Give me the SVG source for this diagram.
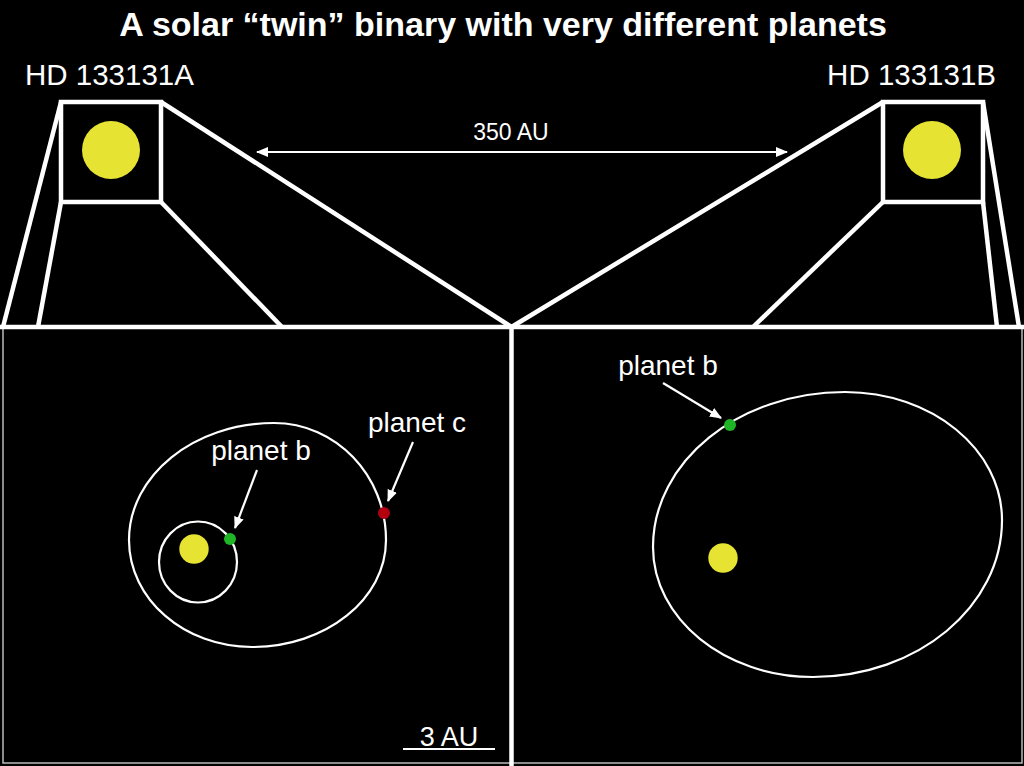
<svg xmlns="http://www.w3.org/2000/svg" width="1024" height="766" viewBox="0 0 1024 766">
<defs>
<marker id="ah" markerUnits="userSpaceOnUse" markerWidth="12" markerHeight="12" viewBox="0 0 12 10" refX="11" refY="5" orient="auto-start-reverse">
<path d="M0,0 L12,5 L0,10 z" fill="#fff"/>
</marker>
<style>
.t{font-family:"Liberation Sans",Arial,sans-serif;fill:#fff}
.lt{font-family:"Liberation Sans",Arial,sans-serif;fill:#fff;font-weight:normal}
.thick{stroke:#fff;stroke-width:4.5;fill:none}
.orb{stroke:#fff;stroke-width:2.2;fill:none}
.arr{stroke:#fff;stroke-width:2.2;fill:none;marker-end:url(#ah)}
.star{fill:#e6e333}
.pb{fill:#1fb526}
.pc{fill:#b3000f}
</style>
</defs>
<rect width="1024" height="766" fill="#000"/>
<g id="title">
<text class="t" x="503" y="36" font-size="34" font-weight="bold" text-anchor="middle">A solar “twin” binary with very different planets</text>
</g>
<g id="starA">
<rect class="thick" x="61" y="102" width="100" height="100"/>
<circle class="star" cx="111" cy="150" r="29"/>
<text class="lt" x="25" y="85" font-size="29.5">HD 133131A</text>
</g>
<g id="starB">
<rect class="thick" x="883" y="102" width="100" height="100"/>
<circle class="star" cx="932" cy="150" r="29"/>
<text class="lt" x="996" y="85" font-size="29.5" text-anchor="end">HD 133131B</text>
</g>
<g id="panelA">
<rect x="3" y="327" width="508" height="436" fill="none" stroke="#bbb" stroke-width="1.5"/>
<path class="orb" d="M129,540 C129,475.4 193.9,423 274,423 C335.9,423 386,475.4 386,540 C386,599.1 326,647 252,647 C184.1,647 129,599.1 129,540 Z"/>
<ellipse class="orb" cx="198" cy="562" rx="39" ry="40.5"/>
<circle class="star" cx="194" cy="549" r="14.7"/>
<circle class="pb" cx="230" cy="539" r="6"/>
<circle class="pc" cx="384" cy="513" r="6"/>
<text class="lt" x="261" y="460" font-size="28" text-anchor="middle">planet b</text>
<text class="lt" x="417" y="432" font-size="28" text-anchor="middle">planet c</text>
<line x1="403" y1="749" x2="495" y2="749" stroke="#fff" stroke-width="2.2"/>
<text class="lt" x="449" y="746" font-size="27" text-anchor="middle">3 AU</text>
</g>
<g id="panelB">
<rect x="511" y="327" width="511" height="436" fill="none" stroke="#bbb" stroke-width="1.5"/>
<path class="orb" d="M653,547 C653,461.4 739,392 845,392 C931.7,392 1002,449.3 1002,520 C1002,606.7 917.4,677 813,677 C724.6,677 653,618.8 653,547 Z"/>
<circle class="star" cx="723" cy="558" r="14.7"/>
<circle class="pb" cx="730" cy="425" r="6"/>
<text class="lt" x="668" y="375" font-size="28" text-anchor="middle">planet b</text>
</g>
<g id="connectors">
<line class="thick" x1="0" y1="327" x2="1024" y2="327" stroke-width="5.5"/>
<line class="thick" x1="511.5" y1="327" x2="511.5" y2="766" stroke-width="6"/>
<line class="thick" x1="61" y1="102" x2="3" y2="327"/>
<line class="thick" x1="61" y1="202" x2="38" y2="327"/>
<line class="thick" x1="161" y1="202" x2="282" y2="327"/>
<line class="thick" x1="161" y1="102" x2="511.5" y2="327"/>
<line class="thick" x1="883" y1="102" x2="511.5" y2="327"/>
<line class="thick" x1="883" y1="202" x2="753" y2="327"/>
<line class="thick" x1="983" y1="202" x2="997" y2="327"/>
<line class="thick" x1="983" y1="102" x2="1019" y2="327"/>
<line x1="257" y1="152" x2="787" y2="152" stroke="#fff" stroke-width="2" marker-start="url(#ah)" marker-end="url(#ah)"/>
<text class="lt" x="511" y="140" font-size="23" text-anchor="middle">350 AU</text>
<line class="arr" x1="257" y1="470" x2="235" y2="528"/>
<line class="arr" x1="413" y1="442" x2="388" y2="501"/>
<line class="arr" x1="663" y1="383" x2="721" y2="418"/>
</g>
</svg>
